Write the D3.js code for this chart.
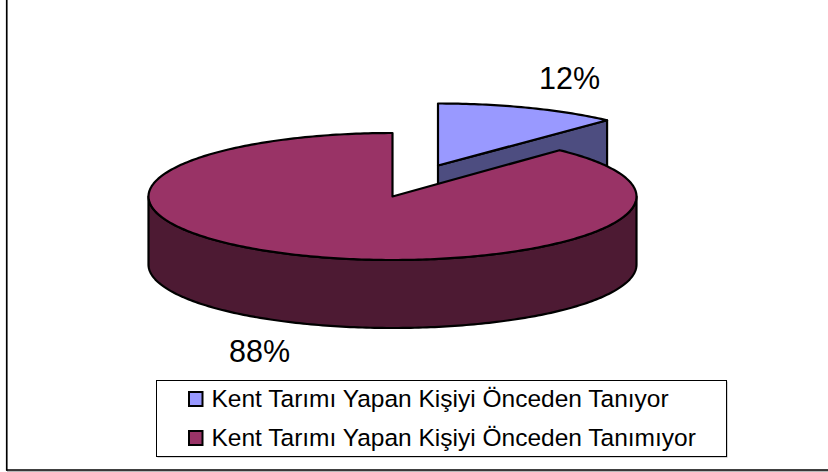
<!DOCTYPE html>
<html>
<head>
<meta charset="utf-8">
<script src="https://d3js.org/d3.v7.min.js"></script>
<style>
  html, body { margin: 0; padding: 0; background: #fff; }
  svg { display: block; }
  text { font-family: "Liberation Sans", Arial, sans-serif; fill: #000; }
</style>
</head>
<body>
<div class="chart"></div>
<script>
var categories = ["Kent Tarımı Yapan Kişiyi Önceden Tanıyor", "Kent Tarımı Yapan Kişiyi Önceden Tanımıyor"];
var values = [12, 88];
var valueLabels = ["12%", "88%"];
var topColors = ["#9999ff", "#993366"];
var sideColors = ["#4d4d80", "#4d1a33"];

var svgWidth = 828;
var svgHeight = 472;

var svg = d3.select(".chart")
  .append("svg")
  .attr("width", svgWidth)
  .attr("height", svgHeight);

// chart frame: only the left and bottom edges are inside the crop
function frameLine(x1, y1, x2, y2, color, w) {
  svg.append("line")
    .attr("x1", x1).attr("y1", y1)
    .attr("x2", x2).attr("y2", y2)
    .attr("stroke", color)
    .attr("stroke-width", w);
}
frameLine(7.5, 0, 7.5, 471, "#999", 1);
frameLine(7, 471.2, 828, 471.2, "#999", 1);
frameLine(6.6, 0, 6.6, 470.5, "#000", 1.4);
frameLine(6, 470, 828, 470, "#000", 1.4);

// 3d pie: ellipse radii and rim depth
var depth = 68;

var bigPie = { x: 392.5, y: 196.5, rx: 244, ry: 63.5 };
var smallPie = { x: 438, y: 165.5, rx: 247, ry: 62 };

var slices = d3.pie().sort(null)(values);

var line = d3.line();

// scales from the unit circle to the page
function rimPoints(c, a0, a1, dy) {
  var n = Math.max(2, Math.ceil(Math.abs(a1 - a0) * 60));
  var x = d3.scaleLinear().domain([-1, 1]).range([c.x - c.rx, c.x + c.rx]);
  var y = d3.scaleLinear().domain([-1, 1]).range([c.y - c.ry, c.y + c.ry]);
  return d3.range(n + 1).map(function(i) {
    var a = a0 + (a1 - a0) * i / n;
    return [x(Math.sin(a)), y(-Math.cos(a)) + dy];
  });
}

function addFace(points, fill) {
  svg.append("path")
    .attr("d", line(points) + "Z")
    .attr("fill", fill)
    .attr("stroke", "#000")
    .attr("stroke-width", 2.2)
    .attr("stroke-linejoin", "round");
}

// small slice first, the big one sits in front of it
var small = slices[0];
var smallRim = rimPoints(smallPie, small.startAngle, small.endAngle, 0);
var smallTip = smallRim[smallRim.length - 1];
addFace([[smallPie.x, smallPie.y], smallTip,
  [smallTip[0], smallTip[1] + depth], [smallPie.x, smallPie.y + depth]], sideColors[0]);
addFace([[smallPie.x, smallPie.y]].concat(smallRim), topColors[0]);

// big slice: visible outer wall is the front half of the ellipse
var big = slices[1];
var frontTop = rimPoints(bigPie, Math.PI / 2, 3 * Math.PI / 2, 0);
var frontBottom = rimPoints(bigPie, Math.PI / 2, 3 * Math.PI / 2, depth).reverse();
addFace(frontTop.concat(frontBottom), sideColors[1]);
addFace([[bigPie.x, bigPie.y]].concat(rimPoints(bigPie, big.startAngle, big.endAngle, 0)), topColors[1]);

// data labels
svg.append("text").attr("x", 539).attr("y", 89).attr("font-size", 30.5).text(valueLabels[0]);
svg.append("text").attr("x", 229).attr("y", 362).attr("font-size", 30.5).text(valueLabels[1]);

// legend, with its thin grey shadow
svg.append("rect")
  .attr("x", 157.5).attr("y", 381.5)
  .attr("width", 570).attr("height", 76)
  .attr("fill", "#aaa");
svg.append("rect")
  .attr("x", 156.5).attr("y", 380.5)
  .attr("width", 570).attr("height", 76)
  .attr("fill", "#fff")
  .attr("stroke", "#000")
  .attr("stroke-width", 1);

var legendY = d3.scalePoint().domain(categories).range([399, 438]);

var legendRows = svg.selectAll(".legend-row")
  .data(categories)
  .enter()
  .append("g")
  .attr("class", "legend-row")
  .attr("transform", function(d) { return "translate(0," + legendY(d) + ")"; });

legendRows.append("rect")
  .attr("x", 189).attr("y", -7)
  .attr("width", 13.5).attr("height", 14)
  .attr("fill", function(d, i) { return topColors[i]; })
  .attr("stroke", "#000")
  .attr("stroke-width", 2);

legendRows.append("text")
  .attr("x", 211.5).attr("y", 7.5)
  .attr("font-size", 24.5)
  .text(function(d) { return d; });
</script>
</body>
</html>
